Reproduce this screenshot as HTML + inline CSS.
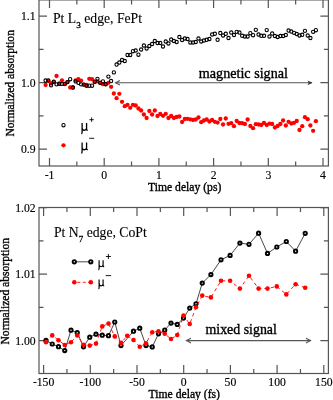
<!DOCTYPE html>
<html><head><meta charset="utf-8"><style>html,body{margin:0;padding:0;background:#fff;width:333px;height:400px;overflow:hidden}svg{display:block;will-change:transform;filter:blur(0.3px)} .ser{font-family:"Liberation Serif",serif;stroke:#000;stroke-width:0.35px}</style></head>
<body><svg width="333" height="400" viewBox="0 0 333 400"><rect width="333" height="400" fill="#fff"/><g stroke="#555" stroke-width="1.2" fill="none"><rect x="39.0" y="-0.1" width="289.4" height="166.1"/><path d="M49.5 166.0v-8M49.5 -0.1v8"/><path d="M76.85 166.0v-4.5M76.85 -0.1v4.5"/><path d="M104.2 166.0v-8M104.2 -0.1v8"/><path d="M131.55 166.0v-4.5M131.55 -0.1v4.5"/><path d="M158.9 166.0v-8M158.9 -0.1v8"/><path d="M186.25 166.0v-4.5M186.25 -0.1v4.5"/><path d="M213.6 166.0v-8M213.6 -0.1v8"/><path d="M240.95 166.0v-4.5M240.95 -0.1v4.5"/><path d="M268.3 166.0v-8M268.3 -0.1v8"/><path d="M295.65 166.0v-4.5M295.65 -0.1v4.5"/><path d="M323 166.0v-8M323 -0.1v8"/><path d="M39.0 149.1h8M328.4 149.1h-8"/><path d="M39.0 115.85h4.5M328.4 115.85h-4.5"/><path d="M39.0 82.6h8M328.4 82.6h-8"/><path d="M39.0 49.35h4.5M328.4 49.35h-4.5"/><path d="M39.0 16.1h8M328.4 16.1h-8"/></g><g class="ser" font-size="11.7" style="stroke-width:0.15px" fill="#000" text-anchor="end"><text x="35.6" y="20">1.1</text><text x="35.6" y="86.5">1.0</text><text x="35.6" y="153">0.9</text></g><g class="ser" font-size="11.7" style="stroke-width:0.15px" fill="#000" text-anchor="middle"><text x="49.5" y="178.5">-1</text><text x="104.2" y="178.5">0</text><text x="158.9" y="178.5">1</text><text x="213.6" y="178.5">2</text><text x="268.3" y="178.5">3</text><text x="323" y="178.5">4</text></g><text class="ser" font-size="11.65" x="148" y="191">Time delay (ps)</text><text class="ser" font-size="11.6" transform="translate(14.2 136.6) rotate(-90)">Normalized absorption</text><text class="ser" font-size="13.7" style="stroke-width:0.1px" x="53" y="22.8">Pt L<tspan font-size="9.2" style="stroke-width:0.3px" dy="5.5">3</tspan><tspan dy="-5.5"> edge, FePt</tspan></text><g stroke="#555" stroke-width="1.1" fill="none"><path d="M115.5 82.8H312"/><path d="M120 80.5L115.5 82.8L120 85.1"/></g><path d="M312.5 82.8L307.5 80.4L308.8 82.8L307.5 85.2Z" fill="#333"/><text class="ser" font-size="14.15" x="198.8" y="77.8">magnetic signal</text><g fill="#f00"><circle cx="45.6" cy="85" r="2.15"/><circle cx="48.33" cy="81" r="2.15"/><circle cx="51.06" cy="83.5" r="2.15"/><circle cx="53.79" cy="82" r="2.15"/><circle cx="56.52" cy="76" r="2.15"/><circle cx="59.25" cy="83.3" r="2.15"/><circle cx="61.98" cy="80.3" r="2.15"/><circle cx="64.71" cy="84.1" r="2.15"/><circle cx="67.44" cy="82.1" r="2.15"/><circle cx="70.17" cy="87.5" r="2.15"/><circle cx="72.9" cy="87.5" r="2.15"/><circle cx="75.63" cy="80.3" r="2.15"/><circle cx="78.36" cy="79.2" r="2.15"/><circle cx="81.09" cy="80.6" r="2.15"/><circle cx="83.82" cy="84.6" r="2.15"/><circle cx="86.55" cy="85" r="2.15"/><circle cx="89.28" cy="78.8" r="2.15"/><circle cx="92.01" cy="79.2" r="2.15"/><circle cx="94.74" cy="82.1" r="2.15"/><circle cx="97.47" cy="81.3" r="2.15"/><circle cx="100.2" cy="82.8" r="2.15"/><circle cx="102.93" cy="84.2" r="2.15"/><circle cx="105.66" cy="84.2" r="2.15"/><circle cx="108.39" cy="82.8" r="2.15"/><circle cx="111.12" cy="86.8" r="2.15"/><circle cx="113.85" cy="93.5" r="2.15"/><circle cx="116.58" cy="98.2" r="2.15"/><circle cx="119.31" cy="93.8" r="2.15"/><circle cx="122.04" cy="101.8" r="2.15"/><circle cx="124.77" cy="106.2" r="2.15"/><circle cx="127.5" cy="104.8" r="2.15"/><circle cx="130.23" cy="107.8" r="2.15"/><circle cx="132.96" cy="104.8" r="2.15"/><circle cx="135.69" cy="105.5" r="2.15"/><circle cx="138.42" cy="108.5" r="2.15"/><circle cx="141.15" cy="110.5" r="2.15"/><circle cx="143.88" cy="114.5" r="2.15"/><circle cx="146.61" cy="118" r="2.15"/><circle cx="149.34" cy="111" r="2.15"/><circle cx="152.07" cy="114.5" r="2.15"/><circle cx="154.8" cy="110.5" r="2.15"/><circle cx="157.53" cy="116" r="2.15"/><circle cx="160.26" cy="114" r="2.15"/><circle cx="162.99" cy="115.8" r="2.15"/><circle cx="165.72" cy="113.8" r="2.15"/><circle cx="168.45" cy="118" r="2.15"/><circle cx="171.18" cy="116" r="2.15"/><circle cx="173.91" cy="118" r="2.15"/><circle cx="176.64" cy="117" r="2.15"/><circle cx="179.37" cy="116.5" r="2.15"/><circle cx="182.1" cy="122" r="2.15"/><circle cx="184.83" cy="119" r="2.15"/><circle cx="187.56" cy="118.8" r="2.15"/><circle cx="190.29" cy="119.3" r="2.15"/><circle cx="193.02" cy="120" r="2.15"/><circle cx="195.75" cy="119.5" r="2.15"/><circle cx="198.48" cy="117.5" r="2.15"/><circle cx="201.21" cy="122.2" r="2.15"/><circle cx="203.94" cy="120.5" r="2.15"/><circle cx="206.67" cy="119.5" r="2.15"/><circle cx="209.4" cy="121.5" r="2.15"/><circle cx="212.13" cy="120" r="2.15"/><circle cx="214.86" cy="121.8" r="2.15"/><circle cx="217.59" cy="122.6" r="2.15"/><circle cx="220.32" cy="119" r="2.15"/><circle cx="223.05" cy="124.5" r="2.15"/><circle cx="225.78" cy="118.5" r="2.15"/><circle cx="228.51" cy="123.8" r="2.15"/><circle cx="231.24" cy="123.2" r="2.15"/><circle cx="233.97" cy="126.2" r="2.15"/><circle cx="236.7" cy="121" r="2.15"/><circle cx="239.43" cy="123" r="2.15"/><circle cx="242.16" cy="123.2" r="2.15"/><circle cx="244.89" cy="124" r="2.15"/><circle cx="247.62" cy="119.5" r="2.15"/><circle cx="250.35" cy="126" r="2.15"/><circle cx="253.08" cy="128.2" r="2.15"/><circle cx="255.81" cy="124.2" r="2.15"/><circle cx="258.54" cy="124.5" r="2.15"/><circle cx="261.27" cy="125" r="2.15"/><circle cx="264" cy="123" r="2.15"/><circle cx="266.73" cy="125" r="2.15"/><circle cx="269.46" cy="123.7" r="2.15"/><circle cx="272.19" cy="124" r="2.15"/><circle cx="274.92" cy="127.5" r="2.15"/><circle cx="277.65" cy="126" r="2.15"/><circle cx="280.38" cy="124" r="2.15"/><circle cx="283.11" cy="120.5" r="2.15"/><circle cx="285.84" cy="125.5" r="2.15"/><circle cx="288.57" cy="121.8" r="2.15"/><circle cx="291.3" cy="123.5" r="2.15"/><circle cx="294.03" cy="122.8" r="2.15"/><circle cx="296.76" cy="121" r="2.15"/><circle cx="299.49" cy="130" r="2.15"/><circle cx="302.22" cy="126.2" r="2.15"/><circle cx="304.95" cy="117.2" r="2.15"/><circle cx="307.68" cy="119.2" r="2.15"/><circle cx="310.41" cy="125.5" r="2.15"/><circle cx="313.14" cy="130.8" r="2.15"/><circle cx="315.87" cy="121.2" r="2.15"/></g><g fill="none" stroke="#000" stroke-width="1.05"><circle cx="45.6" cy="80.5" r="1.65"/><circle cx="48.33" cy="80.3" r="1.65"/><circle cx="51.06" cy="85.3" r="1.65"/><circle cx="53.79" cy="81.7" r="1.65"/><circle cx="56.52" cy="84.3" r="1.65"/><circle cx="59.25" cy="83.9" r="1.65"/><circle cx="61.98" cy="83.9" r="1.65"/><circle cx="64.71" cy="83.9" r="1.65"/><circle cx="67.44" cy="82.1" r="1.65"/><circle cx="70.17" cy="79.2" r="1.65"/><circle cx="72.9" cy="87.5" r="1.65"/><circle cx="75.63" cy="81.4" r="1.65"/><circle cx="78.36" cy="82.8" r="1.65"/><circle cx="81.09" cy="84.3" r="1.65"/><circle cx="83.82" cy="84.6" r="1.65"/><circle cx="86.55" cy="85.7" r="1.65"/><circle cx="89.28" cy="85.7" r="1.65"/><circle cx="92.01" cy="85.7" r="1.65"/><circle cx="94.74" cy="81.7" r="1.65"/><circle cx="97.47" cy="78.8" r="1.65"/><circle cx="100.2" cy="82.8" r="1.65"/><circle cx="102.93" cy="81.3" r="1.65"/><circle cx="105.66" cy="84.2" r="1.65"/><circle cx="108.39" cy="76.6" r="1.65"/><circle cx="111.12" cy="81" r="1.65"/><circle cx="113.85" cy="72.4" r="1.65"/><circle cx="116.58" cy="64.5" r="1.65"/><circle cx="119.31" cy="62.5" r="1.65"/><circle cx="122.04" cy="60" r="1.65"/><circle cx="124.77" cy="61" r="1.65"/><circle cx="127.5" cy="55" r="1.65"/><circle cx="130.23" cy="55" r="1.65"/><circle cx="132.96" cy="51.2" r="1.65"/><circle cx="135.69" cy="50.5" r="1.65"/><circle cx="138.42" cy="54.7" r="1.65"/><circle cx="141.15" cy="49.5" r="1.65"/><circle cx="143.88" cy="45.5" r="1.65"/><circle cx="146.61" cy="48.5" r="1.65"/><circle cx="149.34" cy="46" r="1.65"/><circle cx="152.07" cy="44" r="1.65"/><circle cx="154.8" cy="41" r="1.65"/><circle cx="157.53" cy="43" r="1.65"/><circle cx="160.26" cy="43" r="1.65"/><circle cx="162.99" cy="46.5" r="1.65"/><circle cx="165.72" cy="41.5" r="1.65"/><circle cx="168.45" cy="43.5" r="1.65"/><circle cx="171.18" cy="39.5" r="1.65"/><circle cx="173.91" cy="41" r="1.65"/><circle cx="176.64" cy="42" r="1.65"/><circle cx="179.37" cy="37" r="1.65"/><circle cx="182.1" cy="40" r="1.65"/><circle cx="184.83" cy="38.5" r="1.65"/><circle cx="187.56" cy="39" r="1.65"/><circle cx="190.29" cy="42.5" r="1.65"/><circle cx="193.02" cy="42.5" r="1.65"/><circle cx="195.75" cy="42" r="1.65"/><circle cx="198.48" cy="38.5" r="1.65"/><circle cx="201.21" cy="41.5" r="1.65"/><circle cx="203.94" cy="40.5" r="1.65"/><circle cx="206.67" cy="39.8" r="1.65"/><circle cx="209.4" cy="39" r="1.65"/><circle cx="212.13" cy="34.5" r="1.65"/><circle cx="214.86" cy="33.8" r="1.65"/><circle cx="217.59" cy="39.8" r="1.65"/><circle cx="220.32" cy="33" r="1.65"/><circle cx="223.05" cy="35.5" r="1.65"/><circle cx="225.78" cy="33.8" r="1.65"/><circle cx="228.51" cy="38" r="1.65"/><circle cx="231.24" cy="32.5" r="1.65"/><circle cx="233.97" cy="35" r="1.65"/><circle cx="236.7" cy="31.8" r="1.65"/><circle cx="239.43" cy="32.5" r="1.65"/><circle cx="242.16" cy="35.8" r="1.65"/><circle cx="244.89" cy="36.5" r="1.65"/><circle cx="247.62" cy="36.5" r="1.65"/><circle cx="250.35" cy="33.2" r="1.65"/><circle cx="253.08" cy="35.2" r="1.65"/><circle cx="255.81" cy="29.8" r="1.65"/><circle cx="258.54" cy="34.5" r="1.65"/><circle cx="261.27" cy="35.8" r="1.65"/><circle cx="264" cy="35.8" r="1.65"/><circle cx="266.73" cy="30.1" r="1.65"/><circle cx="269.46" cy="36.5" r="1.65"/><circle cx="272.19" cy="33.5" r="1.65"/><circle cx="274.92" cy="36" r="1.65"/><circle cx="277.65" cy="37" r="1.65"/><circle cx="280.38" cy="36" r="1.65"/><circle cx="283.11" cy="36" r="1.65"/><circle cx="285.84" cy="35" r="1.65"/><circle cx="288.57" cy="30.5" r="1.65"/><circle cx="291.3" cy="31.5" r="1.65"/><circle cx="294.03" cy="32.8" r="1.65"/><circle cx="296.76" cy="34" r="1.65"/><circle cx="299.49" cy="35.5" r="1.65"/><circle cx="302.22" cy="34.8" r="1.65"/><circle cx="304.95" cy="30.8" r="1.65"/><circle cx="307.68" cy="35.5" r="1.65"/><circle cx="310.41" cy="38" r="1.65"/><circle cx="313.14" cy="31.8" r="1.65"/><circle cx="315.87" cy="30.2" r="1.65"/></g><circle cx="63.5" cy="125.2" r="1.65" fill="none" stroke="#000" stroke-width="1.05"/><circle cx="63.5" cy="145.3" r="2.15" fill="#f00"/><g transform="translate(82.1 123.1) scale(1.12)"><path d="M0 0V8.2Q0 9.2 -0.6 9.6M0 4.4Q0.2 6.4 2 6.4Q3.7 6.4 4 4.4M4 0V5.5Q4.1 6.5 5.1 6.2" fill="none" stroke="#000" stroke-width="1.15"/></g><g transform="translate(82.1 142.6) scale(1.12)"><path d="M0 0V8.2Q0 9.2 -0.6 9.6M0 4.4Q0.2 6.4 2 6.4Q3.7 6.4 4 4.4M4 0V5.5Q4.1 6.5 5.1 6.2" fill="none" stroke="#000" stroke-width="1.15"/></g><path d="M91.6 117.5v4.4M89.4 119.7h4.4M89.2 138.3h5" stroke="#000" stroke-width="0.9"/><g stroke="#555" stroke-width="1.2" fill="none"><rect x="39.0" y="207.5" width="289.4" height="166"/><path d="M43.6 373.5v-8.5M43.6 207.5v8.5"/><path d="M66.95 373.5v-4.5M66.95 207.5v4.5"/><path d="M90.3 373.5v-8.5M90.3 207.5v8.5"/><path d="M113.65 373.5v-4.5M113.65 207.5v4.5"/><path d="M137 373.5v-8.5M137 207.5v8.5"/><path d="M160.35 373.5v-4.5M160.35 207.5v4.5"/><path d="M183.7 373.5v-8.5M183.7 207.5v8.5"/><path d="M207.05 373.5v-4.5M207.05 207.5v4.5"/><path d="M230.4 373.5v-8.5M230.4 207.5v8.5"/><path d="M253.75 373.5v-4.5M253.75 207.5v4.5"/><path d="M277.1 373.5v-8.5M277.1 207.5v8.5"/><path d="M300.45 373.5v-4.5M300.45 207.5v4.5"/><path d="M323.8 373.5v-8.5M323.8 207.5v8.5"/><path d="M39.0 340.6h8M328.4 340.6h-8"/><path d="M39.0 307.35h4.5M328.4 307.35h-4.5"/><path d="M39.0 274.1h8M328.4 274.1h-8"/><path d="M39.0 240.85h4.5M328.4 240.85h-4.5"/><path d="M39.0 207.6h8M328.4 207.6h-8"/></g><g class="ser" font-size="11.7" style="stroke-width:0.15px" fill="#000" text-anchor="end"><text x="35.6" y="211.5">1.02</text><text x="35.6" y="278">1.01</text><text x="35.6" y="344.5">1.00</text></g><g class="ser" font-size="11.7" style="stroke-width:0.15px" fill="#000" text-anchor="middle"><text x="43.6" y="386.3">-150</text><text x="90.3" y="386.3">-100</text><text x="137" y="386.3">-50</text><text x="183.7" y="386.3">0</text><text x="230.4" y="386.3">50</text><text x="277.1" y="386.3">100</text><text x="323.8" y="386.3">150</text></g><text class="ser" font-size="11.65" x="148.6" y="397.8">Time delay (fs)</text><text class="ser" font-size="11.6" transform="translate(8.9 344.5) rotate(-90)">Normalized absorption</text><text class="ser" font-size="13.7" style="stroke-width:0.1px" x="54" y="236.8">Pt N<tspan font-size="9" style="stroke-width:0.3px" dy="5.5">7</tspan><tspan dy="-5.5"> edge, CoPt</tspan></text><g stroke="#555" stroke-width="1.1" fill="none"><path d="M186.5 340.6H310.5"/><path d="M191 338.3L186.5 340.6L191 342.9M306 338.3L310.5 340.6L306 342.9"/></g><text class="ser" font-size="13.9" x="205.5" y="333.9">mixed signal</text><polyline points="46,340.4 52.25,344 58.5,346.7 64.75,350.6 71,330.2 77.25,332.7 83.5,346.8 89.75,337.2 96,334.2 102.25,335.2 108.5,335.7 114.75,322 121,345.6 127.25,338.4 133.5,331.2 139.75,328.2 146,345.6 152.25,346.9 158.5,333.8 164.75,330 171,323.1 177.25,324.4 183.5,318.1 189.75,308.1 196,303.8 202.25,283.1 210.9,274.6 221,259.8 230.1,255.4 239.9,243.1 249,244.3 258.6,233.2 267.5,253.4 276.8,247 286.3,241.5 295.6,251.2 305.2,233.3" fill="none" stroke="#333" stroke-width="0.9"/><g fill="#fff" stroke="#000" stroke-width="1.9"><circle cx="46" cy="340.4" r="1.65"/><circle cx="52.25" cy="344" r="1.65"/><circle cx="58.5" cy="346.7" r="1.65"/><circle cx="64.75" cy="350.6" r="1.65"/><circle cx="71" cy="330.2" r="1.65"/><circle cx="77.25" cy="332.7" r="1.65"/><circle cx="83.5" cy="346.8" r="1.65"/><circle cx="89.75" cy="337.2" r="1.65"/><circle cx="96" cy="334.2" r="1.65"/><circle cx="102.25" cy="335.2" r="1.65"/><circle cx="108.5" cy="335.7" r="1.65"/><circle cx="114.75" cy="322" r="1.65"/><circle cx="121" cy="345.6" r="1.65"/><circle cx="133.5" cy="331.2" r="1.65"/><circle cx="139.75" cy="328.2" r="1.65"/><circle cx="146" cy="345.6" r="1.65"/><circle cx="152.25" cy="346.9" r="1.65"/><circle cx="158.5" cy="333.8" r="1.65"/><circle cx="164.75" cy="330" r="1.65"/><circle cx="171" cy="323.1" r="1.65"/><circle cx="177.25" cy="324.4" r="1.65"/><circle cx="183.5" cy="318.1" r="1.65"/><circle cx="189.75" cy="308.1" r="1.65"/><circle cx="196" cy="303.8" r="1.65"/><circle cx="202.25" cy="283.1" r="1.65"/><circle cx="210.9" cy="274.6" r="1.65"/><circle cx="221" cy="259.8" r="1.65"/><circle cx="230.1" cy="255.4" r="1.65"/><circle cx="239.9" cy="243.1" r="1.65"/><circle cx="249" cy="244.3" r="1.65"/><circle cx="258.6" cy="233.2" r="1.65"/><circle cx="267.5" cy="253.4" r="1.65"/><circle cx="276.8" cy="247" r="1.65"/><circle cx="286.3" cy="241.5" r="1.65"/><circle cx="295.6" cy="251.2" r="1.65"/><circle cx="305.2" cy="233.3" r="1.65"/></g><polyline points="46,342.2 52.25,335.4 58.5,340.2 64.75,345 71,342.2 77.25,335.4 83.5,344.8 89.75,345.6 96,343.6 102.25,326.4 108.5,323.6 114.75,336.4 121,342.9 127.25,335.7 133.5,340 139.75,346.8 146,343.2 152.25,332.2 158.5,331.2 164.75,333.8 171,339 177.25,335 183.5,315.6 189.75,324 196,307.2 202.25,295.6 210.9,297.4 221,280.8 230.1,280.8 239.9,288.6 249,275.7 258.6,288.6 267.5,288.6 276.8,286.4 286.3,294.4 295.6,284.2 305.2,287.8" fill="none" stroke="#f00" stroke-width="0.9" stroke-dasharray="3.5 3"/><g fill="#f00"><circle cx="46" cy="342.2" r="2.3"/><circle cx="52.25" cy="335.4" r="2.3"/><circle cx="58.5" cy="340.2" r="2.3"/><circle cx="64.75" cy="345" r="2.3"/><circle cx="71" cy="342.2" r="2.3"/><circle cx="77.25" cy="335.4" r="2.3"/><circle cx="83.5" cy="344.8" r="2.3"/><circle cx="89.75" cy="345.6" r="2.3"/><circle cx="96" cy="343.6" r="2.3"/><circle cx="102.25" cy="326.4" r="2.3"/><circle cx="108.5" cy="323.6" r="2.3"/><circle cx="114.75" cy="336.4" r="2.3"/><circle cx="121" cy="342.9" r="2.3"/><circle cx="127.25" cy="335.7" r="2.3"/><circle cx="133.5" cy="340" r="2.3"/><circle cx="139.75" cy="346.8" r="2.3"/><circle cx="146" cy="343.2" r="2.3"/><circle cx="152.25" cy="332.2" r="2.3"/><circle cx="158.5" cy="331.2" r="2.3"/><circle cx="164.75" cy="333.8" r="2.3"/><circle cx="171" cy="339" r="2.3"/><circle cx="177.25" cy="335" r="2.3"/><circle cx="183.5" cy="315.6" r="2.3"/><circle cx="189.75" cy="324" r="2.3"/><circle cx="196" cy="307.2" r="2.3"/><circle cx="202.25" cy="295.6" r="2.3"/><circle cx="210.9" cy="297.4" r="2.3"/><circle cx="221" cy="280.8" r="2.3"/><circle cx="230.1" cy="280.8" r="2.3"/><circle cx="239.9" cy="288.6" r="2.3"/><circle cx="249" cy="275.7" r="2.3"/><circle cx="258.6" cy="288.6" r="2.3"/><circle cx="267.5" cy="288.6" r="2.3"/><circle cx="276.8" cy="286.4" r="2.3"/><circle cx="286.3" cy="294.4" r="2.3"/><circle cx="295.6" cy="284.2" r="2.3"/><circle cx="305.2" cy="287.8" r="2.3"/></g><path d="M74.3 261.8H90.8" stroke="#333" stroke-width="0.9"/><circle cx="74.3" cy="261.8" r="1.65" fill="#fff" stroke="#000" stroke-width="1.9"/><circle cx="90.8" cy="261.8" r="1.65" fill="#fff" stroke="#000" stroke-width="1.9"/><path d="M74.3 282.3H90.8" stroke="#f00" stroke-width="0.9" stroke-dasharray="3 2.5" stroke-dashoffset="-3"/><circle cx="74.3" cy="282.3" r="2.3" fill="#f00"/><circle cx="90.8" cy="282.3" r="2.3" fill="#f00"/><g transform="translate(99.1 260.3)"><path d="M0 0V8.2Q0 9.2 -0.6 9.6M0 4.4Q0.2 6.4 2 6.4Q3.7 6.4 4 4.4M4 0V5.5Q4.1 6.5 5.1 6.2" fill="none" stroke="#000" stroke-width="1.15"/></g><g transform="translate(99.1 279.5)"><path d="M0 0V8.2Q0 9.2 -0.6 9.6M0 4.4Q0.2 6.4 2 6.4Q3.7 6.4 4 4.4M4 0V5.5Q4.1 6.5 5.1 6.2" fill="none" stroke="#000" stroke-width="1.15"/></g><path d="M108.4 254v5M105.9 256.5h5M105.7 275.6h5.4" stroke="#000" stroke-width="0.9"/></svg></body></html>
